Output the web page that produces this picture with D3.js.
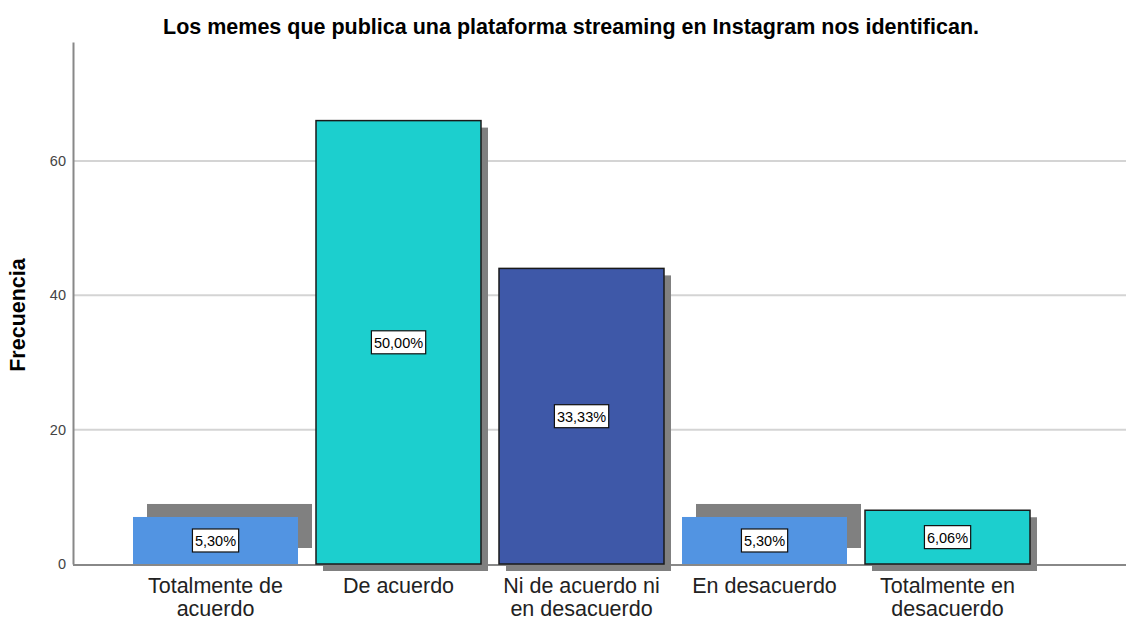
<!DOCTYPE html>
<html><head><meta charset="utf-8">
<script src="https://cdn.jsdelivr.net/npm/d3@7"></script>
<style>body{margin:0;background:#fff}svg{display:block}</style>
</head><body>
<svg id="c" width="1126" height="619"></svg>
<script>
const title = "Los memes que publica una plataforma streaming en Instagram nos identifican.";
const categories = [["Totalmente de","acuerdo"],["De acuerdo"],["Ni de acuerdo ni","en desacuerdo"],["En desacuerdo"],["Totalmente en","desacuerdo"]];
const values = [7, 66, 44, 7, 8];
const percentLabels = ["5,30%","50,00%","33,33%","5,30%","6,06%"];
const barColors = ["#5294e2","#1ccfce","#3e58a8","#5294e2","#1ccfce"];
const bordered = [false, true, true, false, true];
const yTicks = [0, 20, 40, 60];

const FONT = "Arial, 'Liberation Sans', sans-serif";
const svg = d3.select("#c");
const x = d3.scaleBand().domain(d3.range(values.length)).range([124, 1039]).paddingInner(0.0984).paddingOuter(0.0492);
const y = d3.scaleLinear().domain([0, 77.7]).range([564, 42]);

// gridlines
svg.append("g").selectAll("line").data(yTicks.filter(d=>d>0)).join("line")
  .attr("x1", 73).attr("x2", 1126).attr("y1", d=>y(d)).attr("y2", d=>y(d))
  .attr("stroke", "#d4d4d4").attr("stroke-width", 2);

// y axis
const yAxis = svg.append("g").attr("transform","translate(73,0)")
  .call(d3.axisLeft(y).tickValues(yTicks).tickSize(0).tickPadding(7));
yAxis.select(".domain").attr("stroke","#888").attr("stroke-width",2);
yAxis.selectAll("text").attr("font-family",FONT).attr("font-size",14.5).attr("fill","#444");

// x axis line
svg.append("line").attr("x1",73).attr("x2",1126).attr("y1",y(0)+1).attr("y2",y(0)+1).attr("stroke","#888").attr("stroke-width",2);

// shadows
const g = svg.append("g");
values.forEach((v,i)=>{
  const bx = x(i), bw = x.bandwidth(), top = y(v), bot = y(0);
  if (bordered[i]) {
    g.append("rect").attr("x", bx+7).attr("y", top+7).attr("width", bw).attr("height", bot-top).attr("fill","#808080");
  } else {
    g.append("rect").attr("x", bx+14).attr("y", top-13).attr("width", bw).attr("height", bot-top-3).attr("fill","#808080");
  }
});
// bars
values.forEach((v,i)=>{
  const bx = x(i), bw = x.bandwidth(), top = y(v), bot = y(0);
  const r = g.append("rect").attr("x", bx).attr("y", top).attr("width", bw).attr("height", bot-top).attr("fill", barColors[i]);
  if (bordered[i]) r.attr("stroke","#1a1a1a").attr("stroke-width",1.5);
});
// percent labels
values.forEach((v,i)=>{
  const cx = x(i)+x.bandwidth()/2, cy = (y(v)+y(0))/2;
  const t = g.append("text").attr("x",cx).attr("y",cy+5.5).attr("text-anchor","middle")
    .attr("font-family",FONT).attr("font-size",14.5).attr("fill","#000").text(percentLabels[i]);
  const bb = t.node().getBBox();
  g.insert("rect", () => t.node()).attr("x", bb.x-2.5).attr("y", cy-11.5).attr("width", bb.width+5).attr("height", 23)
    .attr("fill","#fff").attr("stroke","#111").attr("stroke-width",1.2);
});

// x labels
categories.forEach((lines,i)=>{
  const cx = x(i)+x.bandwidth()/2;
  const t = svg.append("text").attr("text-anchor","middle").attr("font-family",FONT)
    .attr("font-size",21.5).attr("fill","#222");
  lines.forEach((ln,j)=> t.append("tspan").attr("x",cx).attr("y",593 + j*22.5).text(ln));
});

// y title
svg.append("text").attr("transform","translate(25,315) rotate(-90)").attr("text-anchor","middle")
  .attr("font-family",FONT).attr("font-weight","bold").attr("font-size",21.5).attr("fill","#000").text("Frecuencia");

// title
svg.append("text").attr("x",571).attr("y",34).attr("text-anchor","middle")
  .attr("font-family",FONT).attr("font-weight","bold").attr("font-size",21.5).attr("fill","#000").text(title);
</script>
</body></html>
